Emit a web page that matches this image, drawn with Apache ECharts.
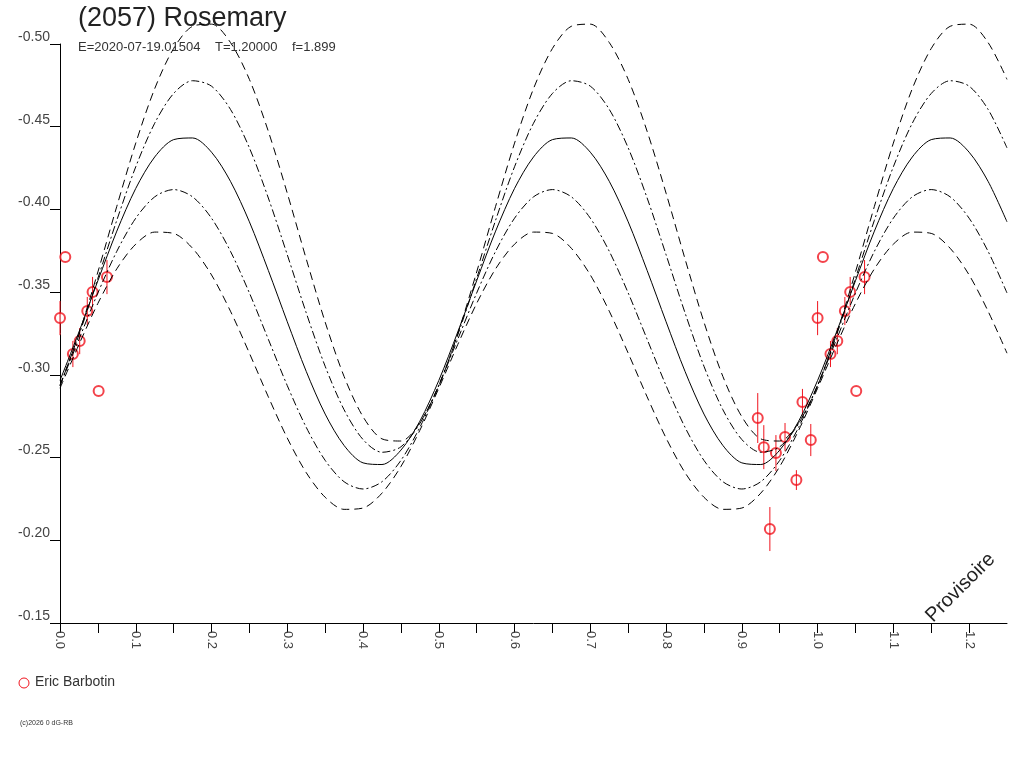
<!DOCTYPE html>
<html>
<head>
<meta charset="utf-8">
<script src="https://cdn.jsdelivr.net/npm/echarts@6/dist/echarts.min.js"></script>
<style>html,body{margin:0;padding:0;background:#fff}#main{width:1024px;height:768px}</style>
</head>
<body>
<div id="main"></div>
<script>
// phase grid of the model curves
var phaseGrid = [0,0.025,0.05,0.075,0.1,0.125,0.15,0.175,0.2,0.225,0.25,0.275,0.3,0.325,0.35,0.375,0.4,0.425,0.45,0.475,
  0.5,0.525,0.55,0.575,0.6,0.625,0.65,0.675,0.7,0.725,0.75,0.775,0.8,0.825,0.85,0.875,0.9,0.925,0.95,0.975,
  1.0,1.025,1.05,1.075,1.1,1.125,1.15,1.175,1.2,1.225,1.25];
// model curves (magnitude)
var curveMain = [-0.2966,-0.3259,-0.3569,-0.3869,-0.4127,-0.4317,-0.4422,-0.4432,-0.4346,-0.4170,-0.3925,-0.3631,-0.3321,-0.3021,-0.2763,-0.2573,-0.2468,-0.2458,-0.2545,-0.2720,
  -0.2966,-0.3259,-0.3569,-0.3869,-0.4127,-0.4317,-0.4422,-0.4432,-0.4346,-0.4170,-0.3925,-0.3631,-0.3321,-0.3021,-0.2763,-0.2573,-0.2468,-0.2458,-0.2545,-0.2720,
  -0.2966,-0.3259,-0.3569,-0.3869,-0.4127,-0.4317,-0.4422,-0.4432,-0.4346,-0.4170,-0.3925];
var curveDotUp = [-0.2938,-0.3241,-0.3584,-0.3935,-0.4258,-0.4521,-0.4701,-0.4778,-0.4745,-0.4605,-0.4372,-0.4069,-0.3726,-0.3375,-0.3052,-0.2789,-0.2609,-0.2532,-0.2565,-0.2706,
  -0.2938,-0.3241,-0.3584,-0.3935,-0.4258,-0.4521,-0.4701,-0.4778,-0.4745,-0.4605,-0.4372,-0.4069,-0.3726,-0.3375,-0.3052,-0.2789,-0.2609,-0.2532,-0.2565,-0.2706,
  -0.2938,-0.3241,-0.3584,-0.3935,-0.4258,-0.4521,-0.4701,-0.4778,-0.4745,-0.4605,-0.4372];
var curveDotLow = [-0.2935,-0.3215,-0.3495,-0.3747,-0.3947,-0.4076,-0.4120,-0.4076,-0.3947,-0.3747,-0.3495,-0.3215,-0.2935,-0.2683,-0.2483,-0.2354,-0.2310,-0.2354,-0.2483,-0.2683,
  -0.2935,-0.3215,-0.3495,-0.3747,-0.3947,-0.4076,-0.4120,-0.4076,-0.3947,-0.3747,-0.3495,-0.3215,-0.2935,-0.2683,-0.2483,-0.2354,-0.2310,-0.2354,-0.2483,-0.2683,
  -0.2935,-0.3215,-0.3495,-0.3747,-0.3947,-0.4076,-0.4120,-0.4076,-0.3947,-0.3747,-0.3495];
var curveDashUp = [-0.2934,-0.3248,-0.3622,-0.4019,-0.4401,-0.4730,-0.4973,-0.5107,-0.5120,-0.5009,-0.4786,-0.4472,-0.4098,-0.3701,-0.3319,-0.2990,-0.2747,-0.2613,-0.2600,-0.2711,
  -0.2934,-0.3248,-0.3622,-0.4019,-0.4401,-0.4730,-0.4973,-0.5107,-0.5120,-0.5009,-0.4786,-0.4472,-0.4098,-0.3701,-0.3319,-0.2990,-0.2747,-0.2613,-0.2600,-0.2711,
  -0.2934,-0.3248,-0.3622,-0.4019,-0.4401,-0.4730,-0.4973,-0.5107,-0.5120,-0.5009,-0.4786];
var curveDashLow = [-0.2919,-0.3183,-0.3432,-0.3641,-0.3790,-0.3863,-0.3855,-0.3765,-0.3604,-0.3385,-0.3131,-0.2867,-0.2618,-0.2409,-0.2260,-0.2187,-0.2195,-0.2285,-0.2446,-0.2665,
  -0.2919,-0.3183,-0.3432,-0.3641,-0.3790,-0.3863,-0.3855,-0.3765,-0.3604,-0.3385,-0.3131,-0.2867,-0.2618,-0.2409,-0.2260,-0.2187,-0.2195,-0.2285,-0.2446,-0.2665,
  -0.2919,-0.3183,-0.3432,-0.3641,-0.3790,-0.3863,-0.3855,-0.3765,-0.3604,-0.3385,-0.3131];
// observations (Eric Barbotin)
var obsPhase = [0.921,0.929,0.937,0.945,0.957,0.972,0.980,0.991,1.000,1.007,1.017,1.026,1.036,1.043,1.051,1.062];
var obsMag   = [-0.2739,-0.2563,-0.2068,-0.2527,-0.2624,-0.2364,-0.2836,-0.2606,-0.3343,-0.3712,-0.3126,-0.3204,-0.3386,-0.3501,-0.2902,-0.3591];
var obsErr   = [0.0151,0.0133,0.0133,0.0109,0.0085,0.006,0.0079,0.0097,0.0103,0,0.0079,0.0079,0.0085,0.0091,0,0.0103];

var chart = echarts.init(document.getElementById('main'));

function curve(vals, dash) {
  return {
    type: 'line', smooth: 0.3, symbol: 'none', clip: false, silent: true,
    data: phaseGrid.map(function (x, i) { return [x, -vals[i]]; }),
    lineStyle: { color: '#000', width: 1, type: dash }
  };
}

// points plotted at phase and phase-1
var pts = [];
obsPhase.forEach(function (p, i) {
  pts.push([p, -obsMag[i], obsErr[i]]);
  if (p - 1 >= 0) pts.push([p - 1, -obsMag[i], obsErr[i]]);
});

var font = 'Liberation Sans, Arial, sans-serif';
var red = '#f0141e';

chart.setOption({
  animation: false,
  grid: { left: 60, right: 17, top: 44, bottom: 145 },
  xAxis: {
    type: 'value', min: 0, max: 1.25, interval: 0.05,
    axisLine: { lineStyle: { color: '#000' } },
    axisTick: { length: 10, lineStyle: { color: '#000' } },
    splitLine: { show: false },
    axisLabel: {
      rotate: -90, color: '#444', fontFamily: font, fontSize: 13, showMaxLabel: false,
      formatter: function (v) { var k = Math.round(v * 20); return k % 2 ? '' : (k / 20).toFixed(1); }
    }
  },
  yAxis: {
    type: 'value', min: 0.15, max: 0.5, interval: 0.05,
    axisLine: { show: true, lineStyle: { color: '#000' } },
    axisTick: { show: true, length: 10, lineStyle: { color: '#000' } },
    splitLine: { show: false },
    axisLabel: { color: '#444', fontFamily: font, fontSize: 14, margin: 10, verticalAlign: 'bottom',
      formatter: function (v) { return '-' + v.toFixed(2); } }
  },
  series: [
    curve(curveDashUp, [8, 5]),
    curve(curveDotUp, [8, 3, 2, 3]),
    curve(curveMain, 'solid'),
    curve(curveDotLow, [8, 3, 2, 3]),
    curve(curveDashLow, [8, 5]),
    {
      type: 'custom', silent: true, z: 3, data: pts,
      renderItem: function (params, api) {
        var a = api.coord([api.value(0), api.value(1) - api.value(2)]);
        var b = api.coord([api.value(0), api.value(1) + api.value(2)]);
        return { type: 'line', shape: { x1: a[0], y1: a[1], x2: b[0], y2: b[1] }, style: { stroke: red, lineWidth: 1 } };
      }
    },
    {
      type: 'scatter', data: pts, symbol: 'emptyCircle', symbolSize: 10, z: 2,
      itemStyle: { color: red, borderWidth: 1 }
    }
  ],
  graphic: [
    { type: 'text', left: 78, top: 5, style: { text: '(2057) Rosemary', font: '27px ' + font, fill: '#222' } },
    { type: 'text', left: 78, top: 41, style: { text: 'E=2020-07-19.01504    T=1.20000    f=1.899', font: '13px ' + font, fill: '#333' } },
    { type: 'circle', shape: { cx: 24, cy: 683, r: 5 }, style: { fill: 'none', stroke: red, lineWidth: 1 } },
    { type: 'text', left: 35, top: 675, style: { text: 'Eric Barbotin', font: '14px ' + font, fill: '#333' } },
    { type: 'text', left: 20, top: 720, style: { text: '(c)2026 0 dG-RB', font: '7px ' + font, fill: '#333' } },
    { type: 'text', x: 922, y: 612, rotation: Math.PI / 4, style: { text: 'Provisoire', font: '20px ' + font, fill: '#222' } }
  ]
});
</script>
</body>
</html>
